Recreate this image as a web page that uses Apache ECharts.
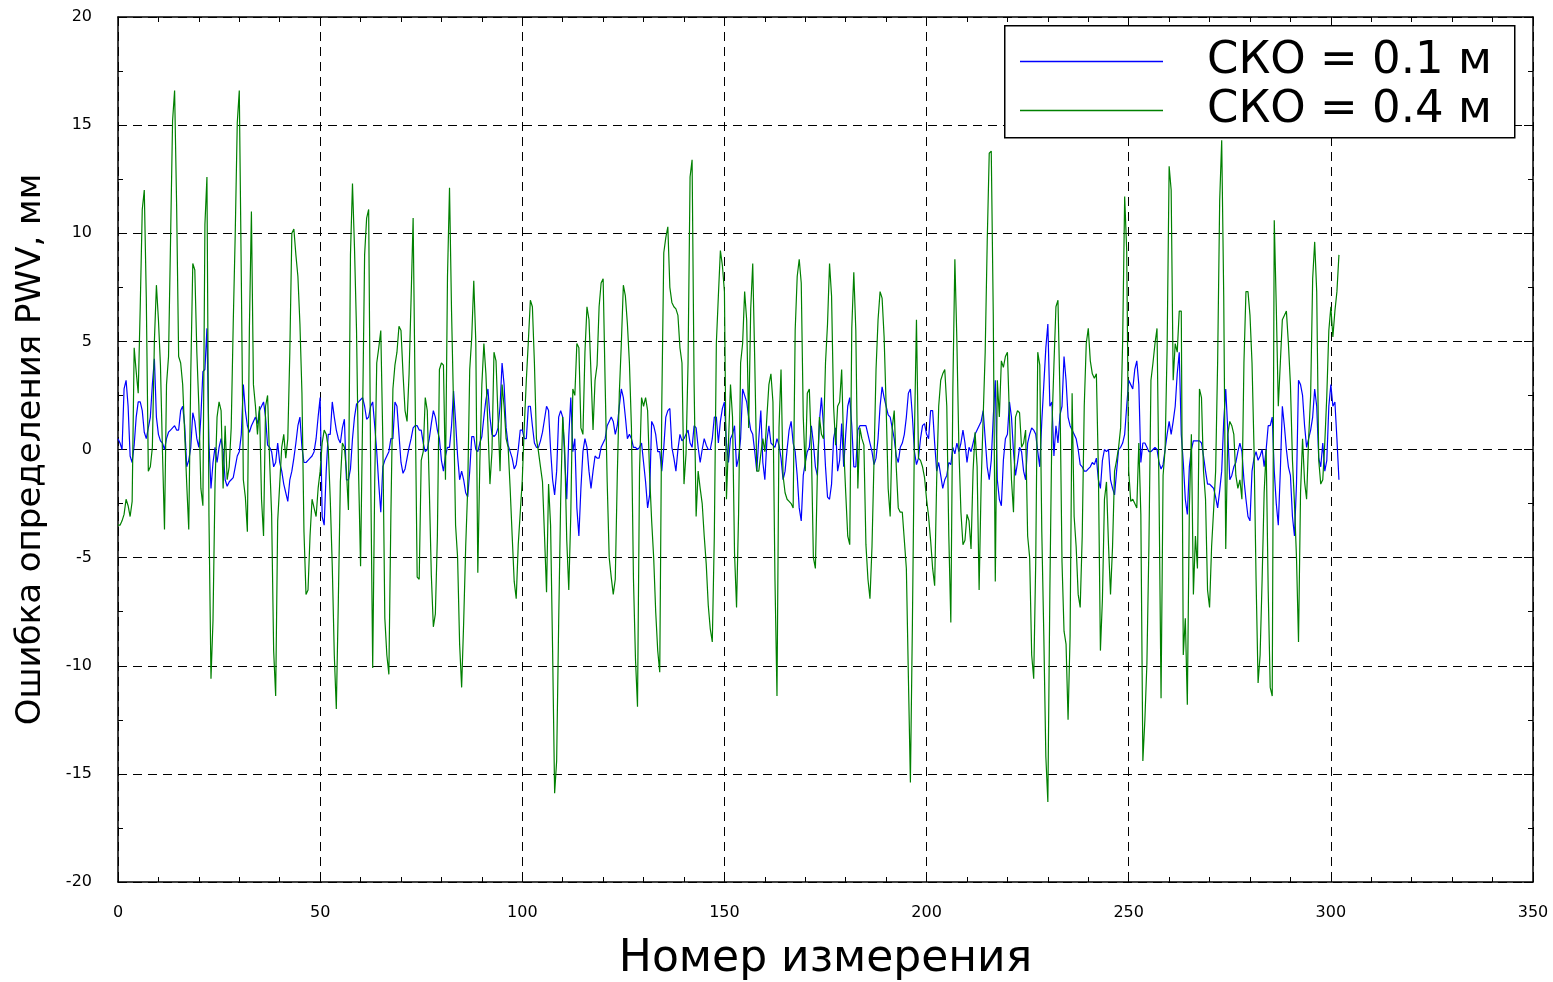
<!DOCTYPE html>
<html>
<head>
<meta charset="utf-8">
<script src="https://cdn.jsdelivr.net/npm/echarts@6/dist/echarts.min.js"></script>
<style>
html,body{margin:0;padding:0;background:#fff;}
#chart{width:1553px;height:982px;}
</style>
</head>
<body>
<div id="chart"></div>
<script>
// ---- data ----
const seriesNames = ['СКО = 0.1 м', 'СКО = 0.4 м'];
const xTitle = 'Номер измерения';
const yTitle = 'Ошибка определения PWV, мм';
const xStep = 0.5; // spacing of the measurement numbers along x

// error for СКО = 0.1 м (blue), one value every 0.5 measurement numbers, from 0
const blueValues = [
 0.5,0.3,0.0,2.8,3.2,2.0,-0.3,-0.6,0.2,1.5, 2.2,2.2,1.8,0.8,0.5,1.0,1.5,3.0,4.2,1.5, 0.7,0.4,0.3,0.0,0.5,0.8,0.9,1.0,1.1,0.9, 0.9,1.8,2.0,1.1,-0.8,-0.5,0.1,1.7,1.3,0.5, 0.1,1.5,3.6,3.7,5.6,0.3,-1.8,-0.6,0.1,-0.6,
 0.1,0.5,-0.1,-1.4,-1.7,-1.5,-1.4,-1.3,-0.8,-0.3, -0.1,0.7,3.0,1.8,1.1,0.8,1.1,1.3,1.5,1.2, 1.8,2.0,2.2,1.5,0.2,0.1,-0.1,-0.8,-0.6,0.3, -0.6,-1.0,-1.6,-2.0,-2.4,-1.4,-1.0,-0.4,0.3,1.1, 1.5,0.1,-0.6,-0.6,-0.5,-0.4,-0.3,-0.1,0.5,1.5,
 2.4,-3.1,-3.5,-1.0,0.7,0.7,2.2,1.5,0.9,0.5, 0.3,1.0,1.4,-1.4,-1.4,-0.9,0.5,1.5,2.1,2.2, 2.3,2.4,2.0,1.4,1.5,2.0,2.2,1.1,-0.1,-1.6, -2.9,-0.8,-0.5,-0.3,-0.1,0.5,0.5,2.2,2.0,0.7, -0.6,-1.1,-0.9,-0.4,0.1,0.5,1.0,1.1,1.1,0.9,
 0.9,0.3,-0.1,0.0,0.5,1.2,1.8,1.5,0.9,0.5, -0.5,-1.0,-0.3,0.1,0.1,1.1,2.7,1.3,-0.3,-1.4, -1.0,-1.4,-2.0,-2.2,-1.0,0.6,0.6,0.0,-0.1,0.3, 0.6,1.5,2.3,2.8,1.5,0.7,0.6,0.7,1.0,2.0, 4.0,3.0,1.0,0.2,-0.1,-0.4,-0.9,-0.7,0.0,0.9,
 0.9,0.5,0.5,2.0,2.0,1.1,0.3,0.1,0.1,0.4, 0.8,1.4,2.0,1.8,0.0,-1.4,-2.1,-1.0,1.5,1.8, 1.5,-0.4,-2.3,0.6,2.4,-0.1,0.5,-2.7,-4.0,-1.8, -0.1,0.5,0.1,-1.0,-1.8,-1.0,-0.3,-0.4,-0.4,0.1, 0.3,0.5,1.1,1.3,1.5,1.3,0.7,1.1,2.0,2.8,
 2.4,1.5,0.5,0.7,0.5,0.1,0.1,0.0,0.1,0.3, -0.6,-1.5,-2.7,-2.1,1.3,1.1,0.7,-0.1,-0.1,-1.0, 0.1,1.5,1.8,1.9,0.1,-0.4,-1.0,0.0,0.7,0.4, 0.5,0.7,0.9,0.3,0.1,1.1,1.0,0.1,-0.6,0.0, 0.5,0.2,0.0,0.0,0.5,1.5,1.5,0.3,1.3,1.9,
 2.2,0.3,-0.6,0.5,0.7,1.1,-0.8,-0.4,0.5,2.8, 2.5,2.2,1.5,0.9,0.7,-0.1,-1.0,0.5,1.8,-0.6, -1.4,0.4,1.1,0.3,0.2,0.1,0.5,0.2,-0.4,-1.4, -1.0,0.0,0.9,1.3,0.3,-0.1,-1.2,-2.7,-3.3,-1.2, -0.6,-0.1,0.1,1.1,0.3,-0.8,-1.2,1.3,2.4,1.1,
 -0.8,-2.2,-2.3,-1.6,0.5,1.0,-1.0,-0.5,1.2,-0.8, 0.7,2.0,2.4,1.1,-0.8,-0.8,0.9,1.1,1.1,1.1, 1.1,0.7,0.3,-0.1,-0.7,-0.4,0.5,2.0,2.9,2.4, 2.0,1.6,1.5,1.0,0.5,-0.3,-0.6,0.1,0.3,0.7, 1.5,2.6,2.8,1.5,-0.1,-0.7,-0.4,0.5,1.1,1.2,
 0.7,0.5,1.8,1.8,0.3,-1.0,-0.6,-1.2,-1.8,-1.4, -1.2,-0.6,-0.7,0.1,-0.2,0.3,-0.1,0.3,0.9,0.3, -0.6,0.1,-0.1,0.3,0.7,0.9,1.1,1.3,1.8,0.5, -0.8,-1.4,-0.5,1.5,3.2,-1.4,-2.3,-2.6,-0.5,0.5, 0.7,2.2,1.5,-0.1,-1.2,-0.6,0.1,-0.1,-1.0,-1.4,
 0.3,0.7,1.0,0.9,0.7,-0.1,-0.8,1.3,3.0,4.7, 5.8,2.0,2.2,-0.3,1.1,0.3,1.6,2.0,4.3,3.2, 1.5,1.1,0.9,0.7,0.5,0.0,-0.7,-0.8,-1.0,-1.0, -0.9,-0.8,-0.6,-0.7,-0.4,-1.4,-1.8,-0.5,0.0,-0.1, 0.0,-1.4,-1.8,-2.1,-1.0,0.0,0.1,0.3,0.7,2.0,
 3.2,3.0,2.8,3.7,4.1,3.0,-0.6,0.3,0.3,0.1, -0.1,-0.1,0.0,0.1,0.0,-0.6,-0.9,-0.7,0.0,0.7, 1.3,0.7,1.3,2.0,3.5,4.5,0.7,-0.6,-2.3,-3.0, -0.8,0.0,0.4,0.4,0.4,0.4,0.3,-0.3,-1.0,-1.6, -1.6,-1.7,-1.8,-2.2,-2.7,-1.9,-1.0,1.3,2.8,0.9,
 -1.4,-1.2,-0.8,-0.6,-0.1,0.3,-0.1,-1.4,-2.3,-3.1, -3.3,-1.0,-0.4,-0.1,-0.5,-0.3,0.0,-0.8,0.0,1.1, 1.1,1.5,-1.0,-2.5,-3.5,-1.0,2.0,1.1,0.0,-0.8, -1.2,-3.1,-4.0,-1.6,3.2,3.0,2.5,1.1,0.1,0.5, 0.9,1.5,2.8,2.0,-0.4,-0.8,0.3,-1.0,-0.5,2.0, 3.0,2.0,2.2,0.5,-1.4
];

// error for СКО = 0.4 м (green), one value every 0.5 measurement numbers, from 0
const greenValues = [
 -3.5,-3.5,-3.3,-3.0,-2.3,-2.6,-3.1,-2.4,4.7,3.6, 2.6,6.6,11.1,12.0,7.0,-1.0,-0.8,0.1,5.0,7.6, 6.0,3.9,-0.1,-3.7,3.0,4.3,9.7,15.2,16.6,11.3, 4.3,4.0,3.0,0.7,-1.6,-3.7,3.5,8.6,8.3,4.5, 2.0,-1.8,-2.6,10.4,12.6,-3.1,-10.6,-7.9,-1.6,1.5,
 2.2,1.8,-1.8,1.1,-1.4,-0.8,1.0,5.8,10.0,15.1, 16.6,8.0,-1.4,-2.2,-3.8,5.6,11.0,3.0,2.0,0.7, 2.0,-2.3,-4.0,2.0,2.5,-0.5,-3.0,-9.3,-11.4,-3.3, -1.6,0.1,0.7,-0.4,0.5,4.5,10.0,10.2,9.0,8.0, 5.8,2.6,-3.8,-6.7,-6.5,-4.0,-2.3,-2.7,-3.1,-1.8,
 -1.0,0.3,0.9,0.7,0.1,-2.3,-5.4,-9.5,-12.0,-7.0, -1.5,0.3,0.1,-1.0,-2.8,9.0,12.3,9.3,5.5,-1.0, -5.4,1.5,9.0,10.7,11.1,-1.0,-10.1,-1.5,4.0,4.7, 5.5,0.5,-7.8,-9.5,-10.4,-3.0,2.8,3.9,4.5,5.7, 5.5,3.5,1.8,1.3,3.5,7.0,10.7,2.4,-5.9,-6.0,
 -0.5,-0.1,2.4,1.8,-1.8,-5.8,-8.2,-7.6,-4.0,3.7, 4.0,3.9,-1.4,8.0,12.1,6.4,2.0,-3.5,-5.0,-9.0, -11.0,-8.0,-4.5,-1.8,3.7,5.2,7.8,5.0,-5.7,-0.6, 3.0,4.9,3.5,1.1,-1.6,-0.1,4.5,4.1,1.5,-1.0, 3.0,2.0,0.5,0.1,-1.8,-4.0,-6.1,-6.9,-4.4,-2.9,
 -1.4,1.1,3.2,5.0,6.9,6.6,4.0,0.5,-0.1,-0.8, -1.5,-4.0,-6.6,-1.6,-3.5,-9.3,-15.9,-14.4,-8.0,-2.3, 1.5,0.0,-4.2,-6.5,-3.0,2.8,2.5,4.9,4.7,1.0, 0.7,4.5,6.6,6.0,3.5,0.9,3.2,3.9,6.6,7.7, 7.9,3.0,-1.5,-5.0,-5.9,-6.7,-6.0,-1.2,2.6,4.9,
 7.6,7.1,5.8,4.0,1.0,-6.0,-9.7,-11.9,-1.0,2.4, 2.0,2.4,1.8,-1.2,-3.3,-5.0,-7.5,-9.3,-10.3,2.0, 9.1,9.8,10.3,7.5,6.8,6.6,6.5,6.2,4.7,4.0, -1.6,-0.2,4.0,12.6,13.4,3.0,-3.1,-1.0,-1.8,-2.5, -4.0,-5.3,-7.2,-8.3,-8.9,-4.0,4.9,7.1,9.2,8.5,
 7.3,-2.3,0.3,3.0,1.5,-4.8,-7.3,-3.0,4.0,4.9, 7.3,6.0,1.0,6.5,8.6,4.1,-1.0,-1.0,-0.2,0.5, -0.1,1.5,3.0,3.5,2.2,-6.0,-11.4,1.0,3.7,-1.2, -2.0,-2.3,-2.4,-2.5,-2.7,5.5,8.0,8.8,7.7,1.5, -1.0,2.6,2.8,0.1,-5.0,-5.5,-1.0,1.5,0.7,0.5,
 4.0,5.8,8.6,7.1,2.0,0.2,2.0,2.2,3.7,0.1, -2.0,-4.0,-4.4,5.6,8.2,5.5,-1.8,1.0,0.5,0.2, -4.4,-6.0,-6.9,-4.5,-0.5,3.7,6.0,7.3,7.0,5.2, 2.0,-1.8,-3.1,1.0,1.8,-0.8,-2.7,-2.9,-2.9,-4.2, -5.5,-10.5,-15.4,-8.0,0.7,6.0,-0.4,-0.5,-0.8,-1.3,
 -2.3,-3.1,-4.2,-5.5,-6.3,-1.4,2.0,3.2,3.5,3.7, 2.0,-4.0,-8.0,2.8,8.8,5.0,0.0,-2.9,-4.4,-4.2, -3.0,-3.3,-4.6,-1.0,0.8,-0.8,-6.5,-1.6,1.5,4.5, 9.6,13.7,13.8,6.2,-6.1,3.2,1.5,4.1,3.8,4.3, 4.5,1.5,-1.4,-2.9,1.5,1.8,1.7,0.1,0.3,0.9,
 -4.0,-5.0,-9.5,-10.6,-5.2,4.5,3.9,-3.8,-8.6,-14.2, -16.3,-6.5,1.0,3.9,6.6,6.9,2.5,-5.2,-8.4,-9.0, -12.5,-8.6,2.6,-3.1,-4.5,-6.7,-7.3,-4.0,2.0,4.9, 5.6,4.1,3.5,3.3,3.5,-1.0,-9.3,-6.9,-2.3,-1.5, -4.4,-6.7,-4.5,-1.0,-0.5,0.1,1.0,5.0,11.7,9.2,
 -1.0,-2.4,-2.3,-2.5,-2.7,0.3,-3.0,-14.4,-12.5,-9.9, -4.4,3.2,4.0,4.9,5.6,-2.0,-11.5,-1.2,0.0,4.7, 13.1,12.0,3.2,4.9,4.5,6.4,6.4,-9.5,-7.8,-11.8, -2.7,0.7,-6.7,-4.0,-5.5,2.8,2.4,-1.0,-2.3,-6.5, -7.3,-4.5,-2.8,-1.0,4.1,11.5,14.3,7.1,-4.6,0.7,
 1.3,1.1,0.7,-1.2,-1.8,-1.4,-2.3,4.0,7.3,7.3, 6.2,4.0,0.0,-6.0,-10.8,-9.5,-6.0,-2.0,0.0,-6.5, -11.0,-11.4,10.6,6.6,2.0,4.0,6.0,6.2,6.4,4.9, 3.0,-0.5,-2.5,-5.0,-8.9,-2.0,0.5,-1.5,-2.3,0.5, 2.5,7.9,9.6,7.3,-0.5,-1.6,-1.4,0.3,2.5,5.5, 6.6,5.2,6.4,7.3,9.0
];

const xRange = [0, 350, 50];   // min, max, tick step
const yRange = [-20, 20, 5];

// ---- chart ----
const FONT = 'DejaVu Sans';
const toPairs = vals => vals.map((v, i) => [i * xStep, v]);

const chart = echarts.init(document.getElementById('chart'), null, {renderer: 'canvas'});

const dashed = {show: true, lineStyle: {type: [9, 6], color: '#000', width: 1}};
const baseAxisLine = {show: true, onZero: false, lineStyle: {color: '#000', width: 1.5}};
const tickStyle = {show: true, inside: true, length: 9, lineStyle: {color: '#000', width: 1}};
const minorStyle = n => ({show: true, splitNumber: n, length: 5, lineStyle: {color: '#000', width: 1}});

const option = {
  backgroundColor: '#fff',
  animation: false,
  grid: {left: 118, right: 20, top: 17, bottom: 100, containLabel: false, outerBoundsMode: 'none'},
  xAxis: [{
    type: 'value', min: xRange[0], max: xRange[1], interval: xRange[2], position: 'bottom',
    axisLine: baseAxisLine, axisTick: tickStyle, minorTick: minorStyle(5),
    splitLine: dashed,
    axisLabel: {fontSize: 16, color: '#000', fontFamily: FONT, margin: 23},
    name: xTitle, nameLocation: 'middle', nameGap: 56,
    nameTextStyle: {fontSize: 44, color: '#000', fontFamily: FONT}
  }, {
    type: 'value', min: xRange[0], max: xRange[1], interval: xRange[2], position: 'top',
    axisLine: baseAxisLine, axisTick: tickStyle, minorTick: minorStyle(5),
    splitLine: {show: false}, axisLabel: {show: false}
  }],
  yAxis: [{
    type: 'value', min: yRange[0], max: yRange[1], interval: yRange[2], position: 'left',
    axisLine: baseAxisLine, axisTick: tickStyle, minorTick: minorStyle(2),
    splitLine: dashed,
    axisLabel: {fontSize: 16, color: '#000', fontFamily: FONT, margin: 26},
    name: yTitle, nameLocation: 'middle', nameGap: 70,
    nameTextStyle: {fontSize: 34, color: '#000', fontFamily: FONT}
  }, {
    type: 'value', min: yRange[0], max: yRange[1], interval: yRange[2], position: 'right',
    axisLine: baseAxisLine, axisTick: tickStyle, minorTick: minorStyle(2),
    splitLine: {show: false}, axisLabel: {show: false}
  }],
  legend: {
    orient: 'vertical', left: 1020, top: 39, padding: 0,
    icon: 'rect', itemWidth: 143, itemHeight: 1.5, itemGap: 4,
    data: seriesNames,
    textStyle: {fontSize: 45, lineHeight: 44, color: '#000', fontFamily: FONT, padding: [0, 0, 0, 39]},
    z: 10
  },
  graphic: [{
    type: 'rect', z: 9, left: 1004, top: 25,
    shape: {width: 510, height: 112},
    style: {fill: '#fff', stroke: '#000', lineWidth: 1.5}
  }],
  series: [{
    name: seriesNames[0], type: 'line', symbol: 'none', xAxisIndex: 0, yAxisIndex: 0,
    data: toPairs(blueValues),
    lineStyle: {color: '#0000ff', width: 1.2}, itemStyle: {color: '#0000ff'}, z: 3
  }, {
    name: seriesNames[1], type: 'line', symbol: 'none', xAxisIndex: 0, yAxisIndex: 0,
    data: toPairs(greenValues),
    lineStyle: {color: '#008000', width: 1.2}, itemStyle: {color: '#008000'}, z: 4
  }]
};
chart.setOption(option);
</script>
</body>
</html>
